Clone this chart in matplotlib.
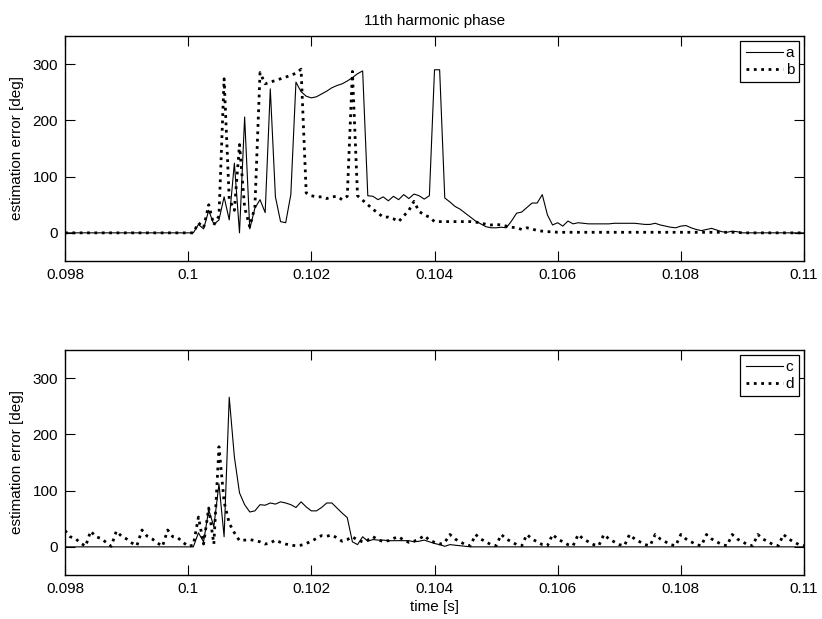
import numpy as np
import matplotlib
matplotlib.use("Agg")
import matplotlib.pyplot as plt
from matplotlib.ticker import FixedLocator, FixedFormatter

plt.rcParams['font.family'] = ['Liberation Sans', 'DejaVu Sans']

# sampling: 12 kHz, from 0.098 s to 0.110 s (145 samples)
fs = 12000.0
t0 = 0.098

a_vals = [0]*26 + [
    15, 7, 40, 15, 23, 64, 23, 124, 0, 206,          # i26-35
    7, 44, 59, 36, 256, 64, 20, 18, 68, 268,         # i36-45
    251, 243, 240, 242, 247, 252, 258, 262, 265, 270,  # i46-55
    276, 283, 288, 66, 65, 59, 64, 57, 65, 59,       # i56-65
    68, 61, 69, 66, 60, 66, 290, 290, 62, 55,        # i66-75
    47, 42, 35, 28, 21, 16, 11, 9, 9, 10,            # i76-85
    9, 21, 35, 37, 45, 53, 53, 68, 32, 14,           # i86-95
    18, 12, 21, 16, 18, 17, 16, 16, 16, 16,          # i96-105
    16, 17, 17, 17, 17, 17, 16, 15, 15, 17,          # i106-115
    14, 12, 10, 9, 12, 13, 9, 6, 4, 6,               # i116-125
    8, 5, 2, 1, 3, 2, 0, 0, 0, 0,                    # i126-135
    0, 0, 0, 0, 0, 0, 0, 0, 0]                       # i136-144

b_vals = [0]*26 + [
    18, 9, 50, 14, 30, 274, 60, 40, 157, 45,         # i26-35
    11, 46, 285, 265, 268, 271, 274, 277, 280, 284,  # i36-45
    291, 71, 66, 64, 64, 61, 64, 65, 59, 65,         # i46-55
    287, 66, 58, 50, 42, 35, 28, 28, 25, 20,         # i56-65
    30, 40, 56, 38, 32, 28, 20, 20, 20, 20,          # i66-75
    20, 20, 20, 20, 19, 18, 15, 14, 15, 14,          # i76-85
    12, 10, 9, 6, 9, 7, 4, 3, 2, 2,                  # i86-95
    1, 1, 1, 1, 1, 1, 1, 1, 1, 1,                    # i96-105
    1, 1, 1, 1, 1, 1, 1, 1, 1, 1,                    # i106-115
    1, 1, 1, 1, 1, 1, 1, 1, 1, 1,                    # i116-125
    1, 1, 1, 1, 1, 1, 0, 0, 0, 0,                    # i126-135
    0, 0, 0, 0, 0, 0, 0, 0, 0]                       # i136-144

c_vals = [0]*26 + [
    25, 9, 66, 36, 112, 18, 266, 160, 96, 75,        # i26-35
    62, 64, 75, 74, 78, 76, 80, 78, 75, 70,          # i36-45
    80, 71, 64, 64, 70, 78, 78, 69, 60, 52,          # i46-55
    9, 4, 18, 10, 13, 12, 12, 11, 11, 11,            # i56-65
    11, 11, 9, 10, 12, 9, 6, 4, 1, 4,                # i66-75
    3, 2, 1, 0, 0, 0, 0, 0, 0, 0,                    # i76-85
    0, 0, 0, 0, 0, 0, 0, 0, 0, 0,                    # i86-95
    0, 0, 0, 0, 0, 0, 0, 0, 0, 0,                    # i96-105
    0, 0, 0, 0, 0, 0, 0, 0, 0, 0,                    # i106-115
    0, 0, 0, 0, 0, 0, 0, 0, 0, 0,                    # i116-125
    0, 0, 0, 0, 0, 0, 0, 0, 0, 0,                    # i126-135
    0, 0, 0, 0, 0, 0, 0, 0, 0]                       # i136-144

d_vals = [
    29, 18, 15, 7, 1, 28, 18, 15, 8, 1,              # i0-9
    28, 19, 14, 7, 2, 30, 19, 14, 7, 1,              # i10-19
    30, 18, 16, 8, 1, 3, 53, 5, 69, 5,               # i20-29
    178, 80, 42, 25, 11, 12, 13, 11, 9, 5,           # i30-39
    7, 12, 8, 5, 3, 2, 3, 6, 10, 15,                 # i40-49
    20, 19, 21, 16, 10, 13, 18, 12, 9, 12,           # i50-59
    18, 13, 9, 11, 15, 18, 12, 8, 10, 14,            # i60-69
    20, 12, 8, 5, 8, 22, 14, 9, 4, 2,                # i70-79
    22, 14, 9, 4, 2, 22, 14, 9, 4, 2,                # i80-89
    22, 14, 9, 4, 2, 22, 14, 9, 4, 2,                # i90-99
    22, 14, 9, 4, 2, 22, 14, 9, 4, 2,                # i100-109
    22, 14, 9, 4, 2, 22, 14, 9, 4, 2,                # i110-119
    22, 14, 9, 4, 2, 22, 14, 9, 4, 2,                # i120-129
    22, 14, 9, 4, 2, 22, 14, 9, 4, 2,                # i130-139
    22, 14, 9, 4, 2]                                 # i140-144

t = t0 + np.arange(len(d_vals)) / fs

xticks = [0.098, 0.100, 0.102, 0.104, 0.106, 0.108, 0.110]
xticklabels = ['0.098', '0.1', '0.102', '0.104', '0.106', '0.108', '0.11']
yticks = [0, 100, 200, 300]

fig = plt.figure(figsize=(8.22, 6.19), dpi=100)
ax1 = fig.add_axes([0.0791, 0.5784, 0.8990, 0.3634])
ax2 = fig.add_axes([0.0791, 0.0711, 0.8990, 0.3635])

FS = 11

def style(ax, s1, s2, l1, l2):
    ax.plot(t, s1, color='black', lw=0.8, linestyle='-', label=l1)
    ax.plot(t, s2, color='black', lw=2.0, linestyle=':', label=l2)
    ax.set_xlim(0.098, 0.110)
    ax.set_ylim(-50, 350)
    ax.xaxis.set_major_locator(FixedLocator(xticks))
    ax.xaxis.set_major_formatter(FixedFormatter(xticklabels))
    ax.set_yticks(yticks)
    ax.tick_params(direction='in', length=7, width=0.8, top=True, right=True,
                   labelsize=FS, pad=5)
    for sp in ax.spines.values():
        sp.set_linewidth(1.0)
    ax.set_ylabel('estimation error [deg]', fontsize=FS)
    ax.yaxis.set_label_coords(-0.056, 0.5)
    leg = ax.legend(loc='upper right', fontsize=FS, handlelength=2.4,
                    handletextpad=0.2, borderpad=0.35, labelspacing=0.2,
                    borderaxespad=0.3, fancybox=False, framealpha=1.0,
                    edgecolor='black')
    leg.get_frame().set_linewidth(0.9)

style(ax1, a_vals, b_vals, 'a', 'b')
style(ax2, c_vals, d_vals, 'c', 'd')

ax1.set_title('11th harmonic phase', fontsize=FS, pad=8)
ax2.set_xlabel('time [s]', fontsize=FS, labelpad=3)

fig.savefig('out.png', dpi=100)
